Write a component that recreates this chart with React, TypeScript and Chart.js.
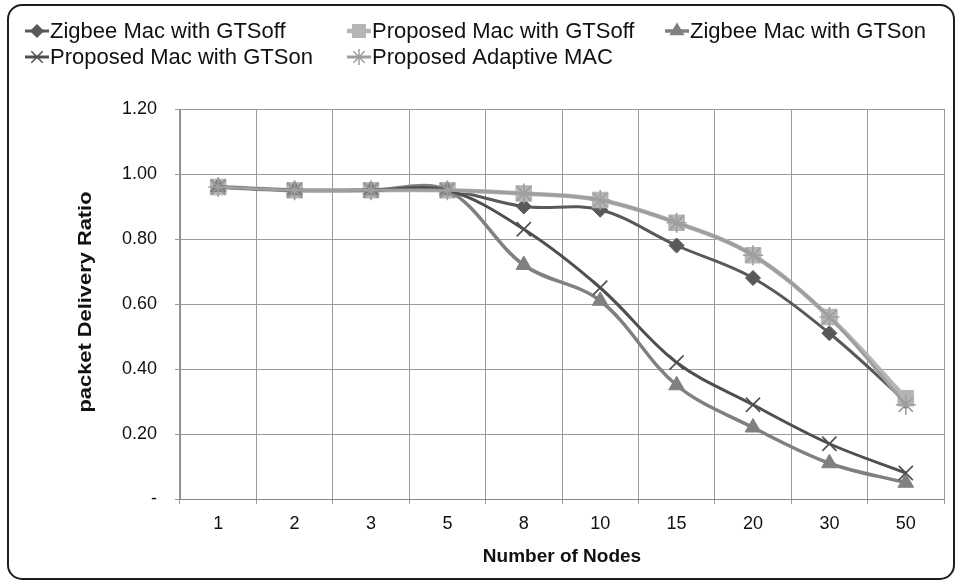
import React, { useEffect, useRef } from 'react';
import { Chart, registerables } from 'chart.js';
import { drawPoint } from 'chart.js/helpers';

Chart.register(...registerables);

const categories = ['1', '2', '3', '5', '8', '10', '15', '20', '30', '50'];
const zigbeeGtsOff = [0.96, 0.95, 0.95, 0.95, 0.9, 0.89, 0.78, 0.68, 0.51, 0.3];
const proposedGtsOff = [0.96, 0.95, 0.95, 0.95, 0.94, 0.92, 0.85, 0.75, 0.56, 0.31];
const zigbeeGtsOn = [0.96, 0.95, 0.95, 0.95, 0.72, 0.61, 0.35, 0.22, 0.11, 0.05];
const proposedGtsOn = [0.96, 0.95, 0.95, 0.95, 0.83, 0.65, 0.42, 0.29, 0.17, 0.08];
const proposedAdaptive = [0.96, 0.95, 0.95, 0.95, 0.94, 0.92, 0.85, 0.75, 0.56, 0.29];

const seriesNames = [
  'Zigbee Mac with GTSoff',
  'Proposed Mac with GTSoff',
  'Zigbee Mac with GTSon',
  'Proposed Mac with GTSon',
  'Proposed Adaptive MAC',
];
const seriesValues = [zigbeeGtsOff, proposedGtsOff, zigbeeGtsOn, proposedGtsOn, proposedAdaptive];
const seriesColors = ['#595959', '#b5b5b5', '#808080', '#4f4f4f', '#9e9e9e'];
const seriesMarkers = ['rectRot', 'rect', 'triangle', 'crossRot', 'star'];
const seriesRadius = [7.5, 11, 9, 10, 10];
const seriesLineWidth = [3, 4.5, 3.5, 3, 3];

const yAxisTitle = 'packet Delivery Ratio';
const xAxisTitle = 'Number of Nodes';
const yMin = 0;
const yMax = 1.2;
const yStep = 0.2;

const legendCols = [25, 347, 665];
const legendRows = [31, 57];

const framePlugin = {
  id: 'framePlugin',
  beforeDraw(chart: any) {
    const ctx = chart.ctx;
    ctx.save();
    ctx.fillStyle = '#ffffff';
    ctx.fillRect(0, 0, chart.width, chart.height);
    ctx.restore();
  },
  afterDraw(chart: any) {
    const ctx = chart.ctx;
    ctx.save();
    ctx.strokeStyle = '#1e1e1e';
    ctx.lineWidth = 2;
    ctx.beginPath();
    (ctx as any).roundRect(8, 5, 946, 574, 14);
    ctx.stroke();

    // axis titles
    ctx.fillStyle = '#111111';
    ctx.textAlign = 'center';
    ctx.textBaseline = 'middle';
    ctx.font = 'bold 19px "Liberation Sans", Arial, sans-serif';
    const area = chart.chartArea;
    ctx.fillText(xAxisTitle, (area.left + area.right) / 2, 557);

    ctx.save();
    ctx.translate(86, 302);
    ctx.rotate(-Math.PI / 2);
    ctx.scale(1.15, 1);
    ctx.font = 'bold 19px "Liberation Sans", Arial, sans-serif';
    ctx.fillText(yAxisTitle, 0, 0);
    ctx.restore();

    // legend
    chart.data.datasets.forEach((ds: any, i: number) => {
      const col = i % 3;
      const row = Math.floor(i / 3);
      const x0 = legendCols[col];
      const y = legendRows[row];
      ctx.save();
      ctx.strokeStyle = seriesColors[i];
      ctx.lineWidth = Math.max(3, seriesLineWidth[i]);
      ctx.beginPath();
      ctx.moveTo(x0, y);
      ctx.lineTo(x0 + 24, y);
      ctx.stroke();
      ctx.fillStyle = seriesColors[i];
      ctx.strokeStyle = seriesColors[i];
      ctx.lineWidth = 1.5;
      drawPoint(ctx, {
        pointStyle: seriesMarkers[i],
        radius: seriesRadius[i] * 0.8,
        rotation: 0,
        borderWidth: 1.5,
      } as any, x0 + 12, y);
      ctx.restore();

      ctx.save();
      ctx.fillStyle = '#111111';
      ctx.textAlign = 'left';
      ctx.textBaseline = 'middle';
      ctx.font = '22px "Liberation Sans", Arial, sans-serif';
      ctx.fillText(seriesNames[i], x0 + 25, y + 1);
      ctx.restore();
    });
    ctx.restore();
  },
};

export default function App() {
  const canvasRef = useRef<HTMLCanvasElement | null>(null);

  useEffect(() => {
    document.body.style.margin = '0';
    const canvas = canvasRef.current;
    if (!canvas) return;
    const datasets = seriesValues.map((vals, i) => ({
      label: seriesNames[i],
      data: vals,
      borderColor: seriesColors[i],
      backgroundColor: seriesColors[i],
      borderWidth: seriesLineWidth[i],
      pointStyle: seriesMarkers[i],
      pointRadius: seriesRadius[i],
      pointBorderWidth: seriesMarkers[i] === 'crossRot' || seriesMarkers[i] === 'star' ? 1.6 : 1,
      pointBackgroundColor: seriesColors[i],
      pointBorderColor: seriesColors[i],
      tension: 0.35,
      fill: false,
      order: seriesValues.length - i,
    }));

    const chart = new Chart(canvas, {
      type: 'line',
      data: { labels: categories, datasets },
      options: {
        responsive: false,
        animation: false,
        layout: { padding: { top: 109, right: 12, bottom: 0, left: 0 } },
        plugins: {
          legend: { display: false },
          tooltip: { enabled: false },
        },
        scales: {
          x: {
            type: 'category',
            offset: true,
            grid: { offset: true, color: '#9a9a9a', tickLength: 5, lineWidth: 1 },
            border: { color: '#8a8a8a' },
            ticks: {
              color: '#111111',
              font: { family: '"Liberation Sans", Arial, sans-serif', size: 18 },
              padding: 9,
              maxRotation: 0,
            },
            afterFit: (scale: any) => {
              scale.height = 82;
            },
          },
          y: {
            min: yMin,
            max: yMax,
            grid: { color: '#9a9a9a', tickLength: 5, lineWidth: 1 },
            border: { color: '#8a8a8a' },
            ticks: {
              stepSize: yStep,
              color: '#111111',
              padding: 18,
              font: { family: '"Liberation Sans", Arial, sans-serif', size: 18 },
              callback: (v: any) => (Math.abs(Number(v)) < 1e-9 ? '-' : Number(v).toFixed(2)),
            },
            afterFit: (scale: any) => {
              scale.width = 180;
            },
          },
        },
      },
      plugins: [framePlugin],
    });
    return () => chart.destroy();
  }, []);

  return (
    <div style={{ position: 'fixed', left: 0, top: 0, width: 956, height: 581 }}>
      <canvas ref={canvasRef} width={956} height={581} />
    </div>
  );
}
